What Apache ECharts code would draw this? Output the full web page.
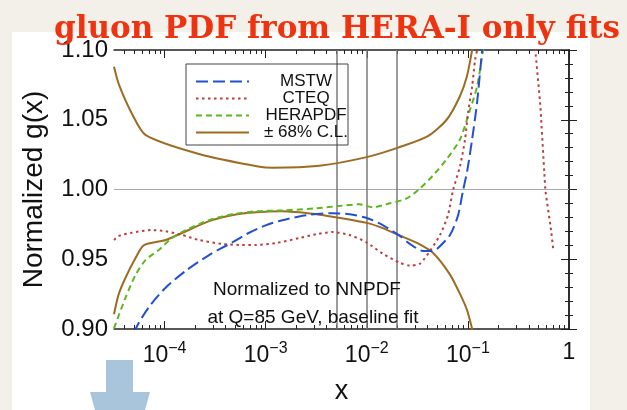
<!DOCTYPE html>
<html><head><meta charset="utf-8">
<script src="https://cdn.jsdelivr.net/npm/echarts/dist/echarts.min.js"></script>
<style>html,body{margin:0;padding:0;background:#f3efe9}#c{width:627px;height:410px}</style>
</head><body><div id="c"></div><script>
// x values are given as log10(x); the x axis is a log10 axis
const xMin = -4.5, xMax = 0;
const xMajorTicks = [1e-4, 1e-3, 1e-2, 1e-1, 1];
const vLinesX = [0.005, 0.01, 0.02];
const yTicks = [0.90, 0.95, 1.00, 1.05, 1.10];

const mstwLogX = [-4.33,-4.285,-4.156,-3.987,-3.789,-3.560,-3.332,-3.163,-2.994,-2.835,-2.597,-2.339,-2.170,-1.991,-1.842,-1.673,-1.574,-1.445,-1.355,-1.306,-1.177,-1.097,-1.048,-1.008,-0.958,-0.909,-0.859,-0.829];
const mstwG    = [0.885,0.900,0.9156,0.9298,0.9418,0.9530,0.9620,0.9690,0.9745,0.978,0.9816,0.983,0.9823,0.9794,0.9745,0.9667,0.961,0.956,0.956,0.9574,0.9674,0.9816,0.9993,1.0128,1.036,1.0624,1.10,1.12];

const cteqLogX = [-4.5,-4.454,-4.325,-4.127,-3.987,-3.828,-3.660,-3.431,-3.262,-3.093,-2.895,-2.666,-2.497,-2.339,-2.170,-2.001,-1.842,-1.673,-1.574,-1.475,-1.375,-1.276,-1.197,-1.147,-1.077,-1.028,-0.998,-0.958,-0.929,-0.909,-0.889];
const cteqG    = [0.9638,0.9667,0.969,0.9709,0.970,0.9674,0.9638,0.961,0.9603,0.9603,0.9617,0.9652,0.968,0.9695,0.9674,0.962,0.954,0.9475,0.9455,0.9468,0.956,0.9674,0.9816,0.9993,1.017,1.036,1.0553,1.0738,1.093,1.10,1.114];
const cteqHighXLogX = [-0.343,-0.333,-0.283,-0.233,-0.184,-0.154];
const cteqHighXG    = [1.114,1.10,1.0596,0.9993,0.9745,0.956];

const heraLogX = [-4.5,-4.385,-4.285,-4.186,-4.057,-3.928,-3.789,-3.560,-3.332,-3.093,-2.835,-2.497,-2.299,-2.071,-1.942,-1.773,-1.604,-1.475,-1.346,-1.207,-1.077,-0.978,-0.909,-0.849,-0.809];
const heraG    = [0.9005,0.9227,0.939,0.9496,0.9567,0.9652,0.9709,0.978,0.9823,0.9844,0.985,0.9865,0.988,0.9894,0.9872,0.9901,0.9936,1.0007,1.010,1.022,1.036,1.0574,1.0738,1.10,1.114];

const clUpLogX = [-4.5,-4.45,-4.32,-4.186,-3.66,-3.06,-2.93,-2.47,-1.99,-1.69,-1.40,-1.21,-1.08,-1.01,-0.958,-0.90];
const clUpG    = [1.088,1.075,1.054,1.039,1.0255,1.0163,1.0156,1.017,1.0234,1.030,1.038,1.050,1.0667,1.081,1.10,1.125];
const clLoLogX = [-4.5,-4.454,-4.385,-4.286,-4.206,-3.987,-3.828,-3.560,-3.332,-3.093,-2.835,-2.497,-2.299,-1.991,-1.842,-1.673,-1.504,-1.346,-1.177,-1.077,-1.008,-0.958,-0.929];
const clLoG    = [0.9106,0.9248,0.9369,0.951,0.960,0.9638,0.9688,0.9773,0.9816,0.9837,0.9844,0.9823,0.980,0.9759,0.9723,0.967,0.9617,0.9546,0.939,0.925,0.9135,0.90,0.891];

const legendNames = ['MSTW','CTEQ','HERAPDF','± 68% C.L.'];
const colors = {mstw:'#2250d0', cteq:'#b8403f', hera:'#5cb81e', cl:'#9c6c22'};

const pair = (xs, ys) => xs.map((x, i) => [x, ys[i]]);
const minorTicks = [];
for (let e = -5; e < 0; e++) for (let k = 2; k <= 9; k++) {
  const v = Math.log10(k * Math.pow(10, e));
  if (v > xMin && v < xMax) minorTicks.push(v);
}
const majorTicks = xMajorTicks.map(v => Math.log10(v));
const FONT = 'Liberation Sans';
const frame = {show:true, lineStyle:{color:'#222', width:1.5}};

function xAxisDef(pos, ticks, len, labels, line, name) {
  const ax = {type:'value', min:xMin, max:xMax, position:pos, gridIndex:0,
    axisLine: line ? frame : {show:false},
    splitLine:{show:false},
    axisTick:{show:true, inside:true, length:len, customValues:ticks, lineStyle:{color:'#222', width:1}},
    axisLabel: labels ? {show:true, customValues:ticks, margin:12,
      formatter: v => { const e = Math.round(v); return e === 0 ? '{b|1}' : '{b|10}{s|\u2212' + (-e) + '}'; },
      rich:{b:{fontSize:23, fontFamily:FONT, color:'#111'}, s:{fontSize:16, fontFamily:FONT, color:'#111', padding:[0,0,14,0]}}
    } : {show:false}
  };
  if (name) { ax.name = 'x'; ax.nameLocation='middle'; ax.nameGap=49; ax.nameTextStyle={fontSize:27, fontFamily:FONT, color:'#111'}; }
  return ax;
}

const lineSeries = (name, data, color, type, extra) => Object.assign({
  type:'line', name, data, showSymbol:false, symbol:'none', smooth:0.25, clip:true,
  lineStyle:{color, width:2, type}, itemStyle:{color}, z:3
}, extra || {});

const option = {
  backgroundColor:'#f3efe9',
  animation:false,
  grid:{left:114, top:50, width:455, height:282, containLabel:false},
  xAxis:[
    xAxisDef('bottom', majorTicks, 8, true, true, true),
    xAxisDef('bottom', minorTicks, 4, false, false),
    xAxisDef('top', majorTicks, 8, false, true),
    xAxisDef('top', minorTicks, 4, false, false)
  ],
  yAxis:[
    {type:'value', min:0.9, max:1.1, interval:0.05, position:'left', axisLine:frame, splitLine:{show:false},
     axisTick:{inside:true, length:8, lineStyle:{color:'#222'}}, minorTick:{show:true, splitNumber:5, length:4, lineStyle:{color:'#222'}},
     axisLabel:{margin:6, fontSize:24, fontFamily:FONT, color:'#111', formatter:v => v.toFixed(2)},
     name:'Normalized g(x)', nameLocation:'middle', nameGap:66, nameTextStyle:{fontSize:28, fontFamily:FONT, color:'#111'}},
    {type:'value', min:0.9, max:1.1, interval:0.05, position:'right', axisLine:frame, splitLine:{show:false},
     axisTick:{inside:true, length:8, lineStyle:{color:'#222'}}, minorTick:{show:true, splitNumber:5, length:4, lineStyle:{color:'#222'}},
     axisLabel:{show:false}}
  ],
  legend:{orient:'vertical', left:190, top:68, itemWidth:53, itemHeight:10, itemGap:0, padding:5,
    data:legendNames, selectedMode:false,
    itemStyle:{opacity:0, borderWidth:0},
    formatter: n => '{t|' + n + '}',
    textStyle:{rich:{t:{width:104, align:'center', fontSize:17, lineHeight:17, fontFamily:FONT, color:'#111'}}}},
  graphic:[
    {type:'rect', z:-10, shape:{x:12, y:32, width:578, height:390}, style:{fill:'#ffffff'}, silent:true},
    {type:'rect', z:10, shape:{x:186, y:64, width:162, height:81}, style:{fill:'none', stroke:'#444', lineWidth:1}, silent:true},
    {type:'text', z:10, x:337, y:30, style:{text:'gluon PDF from HERA-I only fits', fill:'#ee3311', font:'bold 31px "DejaVu Serif"', textAlign:'center', textVerticalAlign:'middle'}},
    {type:'text', z:10, x:307, y:290, style:{text:'Normalized to NNPDF', fill:'#111', font:'19px "Liberation Sans"', textAlign:'center', textVerticalAlign:'middle'}},
    {type:'text', z:10, x:313, y:318, style:{text:'at Q=85 GeV, baseline fit', fill:'#111', font:'19px "Liberation Sans"', textAlign:'center', textVerticalAlign:'middle'}},
    {type:'polygon', z:10, shape:{points:[[106,360],[133,360],[133,392],[150,392],[120,500],[90,392],[106,392]]}, style:{fill:'#a9c5db'}, silent:true}
  ],
  series:[
    lineSeries('± 68% C.L.', pair(clUpLogX, clUpG), colors.cl, 'solid', {
      markLine:{silent:true, symbol:['none','none'], label:{show:false}, z:1,
        data:[{yAxis:1.0, lineStyle:{color:'#aaaaaa', width:1, type:'solid'}}].concat(
          vLinesX.map(v => ({xAxis:Math.log10(v), lineStyle:{color:'#7a7a7a', width:1.5, type:'solid'}})))}
    }),
    lineSeries('± 68% C.L.', pair(clLoLogX, clLoG), colors.cl, 'solid'),
    lineSeries('HERAPDF', pair(heraLogX, heraG), colors.hera, [6,4]),
    lineSeries('CTEQ', pair(cteqLogX, cteqG), colors.cteq, [2.5,3.5]),
    lineSeries('CTEQ', pair(cteqHighXLogX, cteqHighXG), colors.cteq, [2.5,3.5], {smooth:0.1}),
    lineSeries('MSTW', pair(mstwLogX, mstwG), colors.mstw, [12,5])
  ]
};
const chart = echarts.init(document.getElementById('c'), null, {renderer:'canvas'});
chart.setOption(option);
</script></body></html>
